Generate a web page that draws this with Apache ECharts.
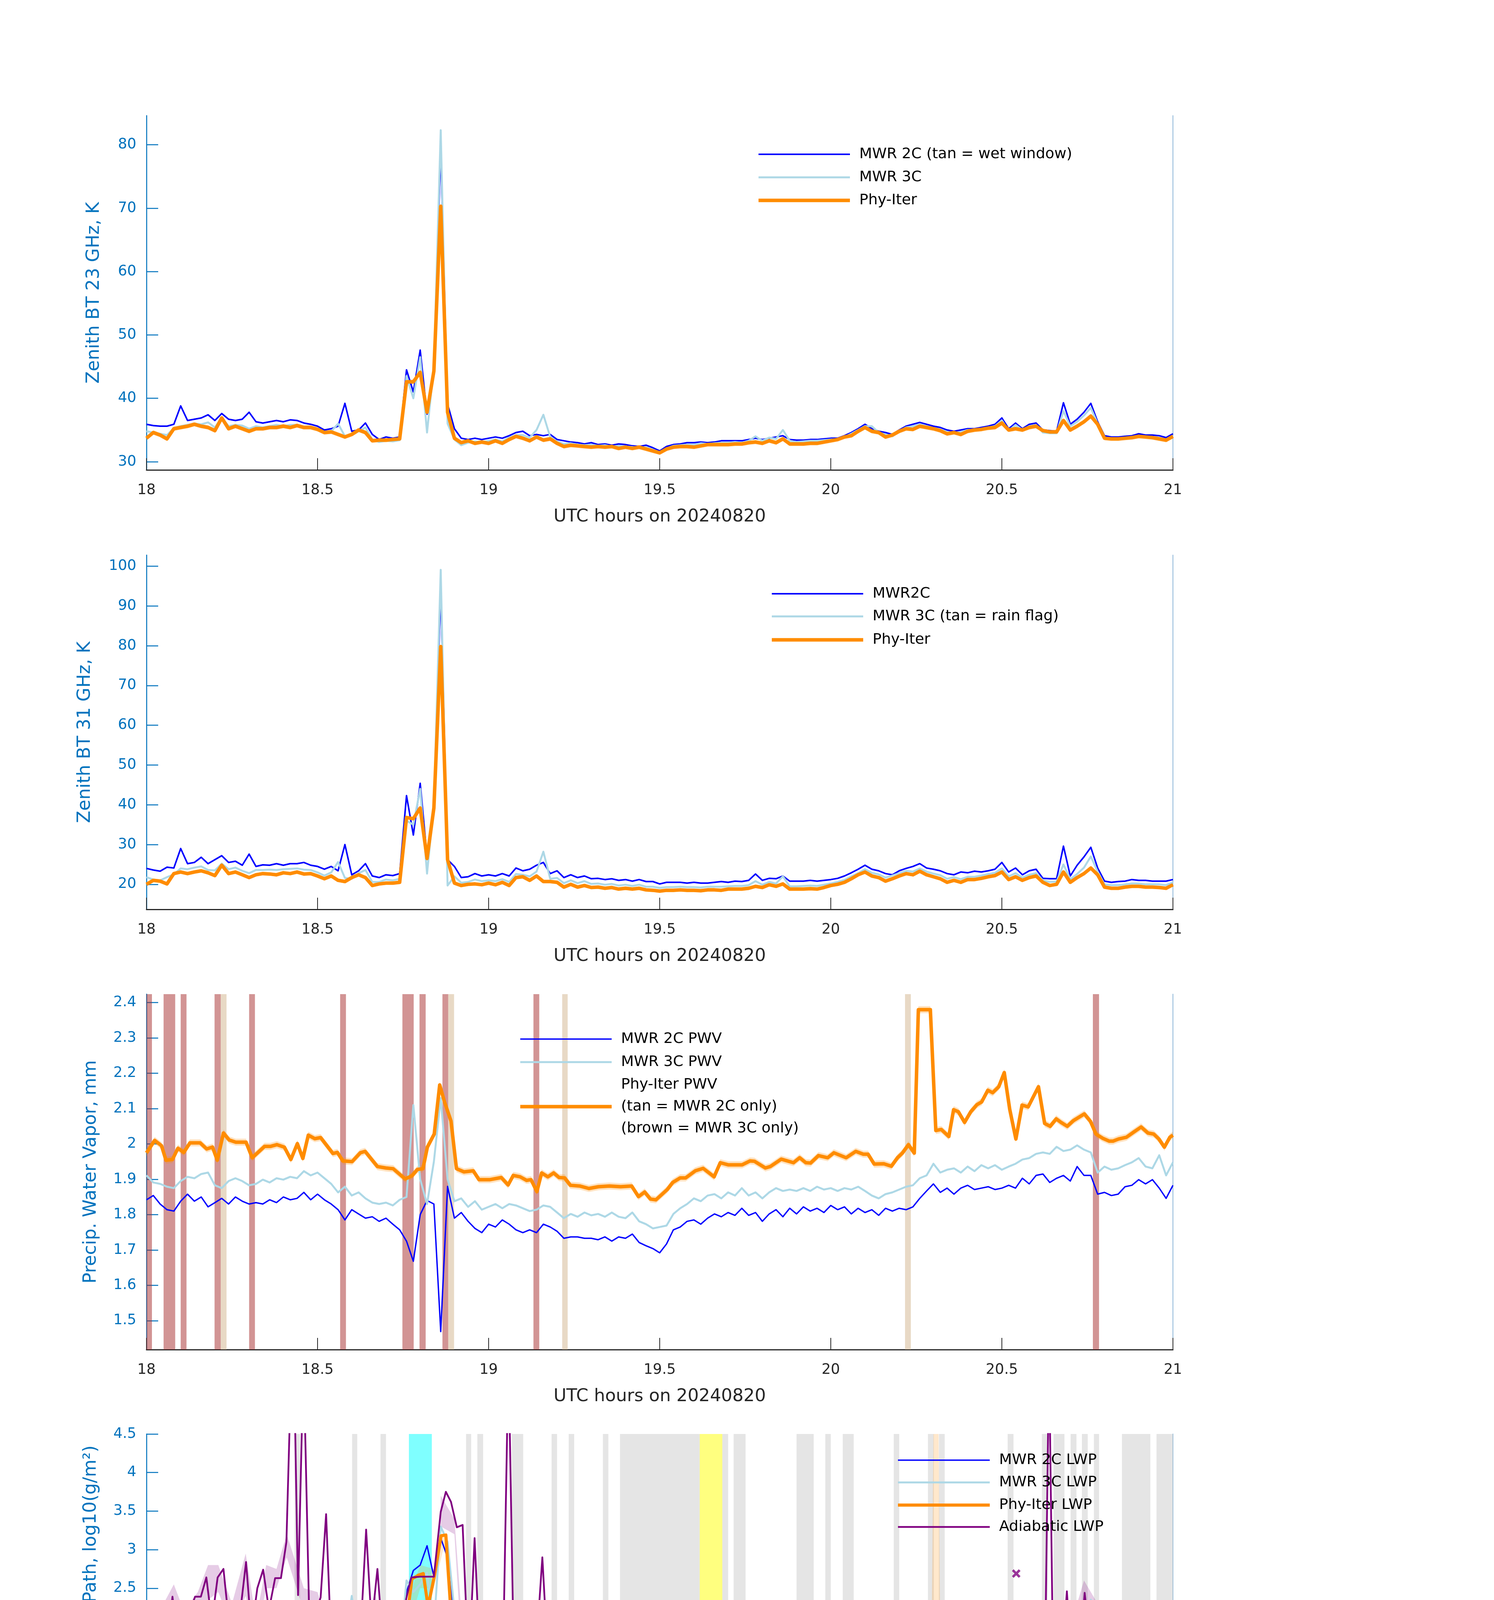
<!DOCTYPE html>
<html><head><meta charset="utf-8">
<script src="https://cdn.jsdelivr.net/npm/echarts@6/dist/echarts.min.js"></script>
<style>html,body{margin:0;padding:0;background:#fff}#c{width:3825px;height:6000px}</style>
</head><body><div id="c"></div>
<script>
// ---------------- DATA ----------------
// sampling grid of the MWR series: 18.00 .. 21.00 h every 0.02 h (151 samples, rows of 10)
const T = []; for (let i = 0; i <= 150; i++) T.push(+(18 + i * 0.02).toFixed(2));
const xTicks = [18, 18.5, 19, 19.5, 20, 20.5, 21];

// Panel 1: Zenith BT 23 GHz (K)
const bt23_2C = [
35.9,35.7,35.6,35.6,35.9,38.8,36.5,36.7,36.9,37.4,
36.5,37.6,36.7,36.5,36.7,37.8,36.3,36.1,36.3,36.5,
36.3,36.6,36.5,36.1,35.9,35.6,35.0,35.2,35.6,39.2,
34.8,35.0,36.1,34.3,33.5,33.9,33.7,33.9,44.5,41.0,
47.6,37.5,45.0,79.4,39.1,35.2,33.7,33.5,33.7,33.5,
33.7,33.9,33.7,34.1,34.6,34.8,34.1,34.3,34.1,34.3,
33.5,33.3,33.1,33.0,32.8,33.0,32.7,32.8,32.6,32.8,
32.7,32.5,32.4,32.6,32.2,31.7,32.4,32.7,32.8,33.0,
33.0,33.1,33.0,33.1,33.3,33.3,33.3,33.3,33.5,33.7,
33.5,33.7,33.9,34.1,33.5,33.4,33.4,33.5,33.5,33.6,
33.7,33.7,34.1,34.6,35.2,35.9,35.2,34.8,34.6,34.3,
35.0,35.6,35.9,36.2,35.9,35.6,35.4,35.0,34.8,35.0,
35.2,35.2,35.4,35.6,35.9,36.9,35.2,36.1,35.2,35.9,
36.1,35.0,34.9,34.8,39.3,35.9,36.7,37.8,39.2,36.3,
34.1,33.9,33.9,34.0,34.1,34.4,34.2,34.2,34.1,33.8,
34.4];
const bt23_3C = [
34.8,34.6,34.4,34.2,35.3,35.6,35.8,36.0,35.9,36.2,
35.4,37.0,35.6,35.8,35.7,35.2,35.6,35.4,35.6,35.8,
35.6,35.8,35.8,35.5,35.4,35.2,34.5,34.8,36.0,34.0,
34.2,34.8,35.4,33.5,33.1,33.3,33.2,33.4,43.5,40.0,
46.5,34.6,45.0,82.3,36.0,33.5,32.6,33.0,33.2,33.1,
33.3,33.5,33.2,33.8,34.2,34.2,33.8,35.0,37.4,33.9,
33.2,32.8,32.9,32.7,32.6,32.7,32.5,32.6,32.4,32.5,
32.4,32.3,32.2,32.3,31.9,31.5,32.1,32.5,32.6,32.7,
32.7,32.9,32.8,32.9,33.0,33.0,33.1,33.0,33.3,34.0,
33.3,33.8,33.6,35.0,33.3,33.1,33.2,33.3,33.3,33.4,
33.5,33.5,33.9,34.4,35.0,35.6,35.6,34.6,34.3,34.0,
34.8,35.4,35.6,35.9,35.6,35.3,35.1,34.7,34.5,34.7,
35.0,35.0,35.2,35.4,35.6,36.5,34.9,35.8,35.0,35.6,
35.8,34.6,34.5,34.5,38.0,35.6,36.3,37.3,38.5,36.0,
33.7,33.6,33.6,33.7,33.8,34.1,33.9,33.9,33.8,33.5,
34.1];
const bt23_phy = [
33.7,34.6,34.2,33.6,35.2,35.4,35.6,35.9,35.6,35.4,
34.9,36.9,35.2,35.6,35.2,34.8,35.2,35.2,35.4,35.4,
35.6,35.4,35.7,35.4,35.4,35.1,34.6,34.7,34.3,33.9,
34.3,35.0,34.6,33.3,33.4,33.4,33.5,33.6,42.6,42.6,
44.1,37.8,44.3,70.3,37.8,33.7,33.0,33.3,32.9,33.1,
32.9,33.3,32.9,33.5,34.0,33.7,33.3,33.9,33.4,33.6,
32.9,32.4,32.6,32.5,32.4,32.3,32.4,32.3,32.4,32.1,
32.3,32.1,32.3,32.0,31.7,31.4,32.0,32.3,32.4,32.4,
32.3,32.5,32.7,32.7,32.7,32.7,32.8,32.8,33.0,33.1,
32.9,33.3,33.0,33.6,32.8,32.8,32.8,32.9,32.9,33.1,
33.3,33.5,33.9,34.1,34.8,35.4,34.8,34.6,33.9,34.2,
34.8,35.2,35.1,35.6,35.4,35.2,34.9,34.4,34.6,34.3,
34.8,35.0,35.1,35.3,35.4,36.1,35.0,35.2,35.0,35.4,
35.6,34.9,34.7,34.7,36.5,35.0,35.6,36.3,37.2,35.9,
33.7,33.6,33.6,33.7,33.8,34.0,33.9,33.8,33.6,33.4,
34.0];
const bt23_phyUnc = 0.35;

// Panel 2: Zenith BT 31 GHz (K)
const bt31_2C = [
24.0,23.6,23.3,24.3,24.1,29.0,25.2,25.5,26.8,25.2,
26.2,27.2,25.5,25.8,24.8,27.6,24.5,24.9,24.8,25.2,
24.8,25.2,25.2,25.5,24.8,24.5,23.8,24.5,23.4,30.0,
22.4,23.4,25.2,22.1,21.7,22.4,22.2,22.7,42.3,32.4,
45.4,27.0,39.2,94.3,26.2,24.5,21.7,21.9,22.7,22.1,
22.4,22.1,22.7,22.1,24.1,23.4,23.8,24.8,25.5,22.7,
23.4,21.7,22.4,21.7,22.1,21.4,21.5,21.2,21.4,21.0,
21.2,20.8,21.2,20.7,20.7,20.1,20.5,20.5,20.5,20.3,
20.5,20.3,20.3,20.5,20.7,20.5,20.8,20.7,21.0,22.6,
21.0,21.5,21.4,22.1,20.8,20.8,20.8,21.0,20.8,21.0,
21.2,21.5,22.1,22.9,23.8,24.8,23.8,23.4,22.7,22.4,
23.4,24.0,24.5,25.2,24.1,23.8,23.4,22.7,22.4,23.1,
22.9,23.3,23.1,23.4,23.8,25.5,23.1,24.1,22.4,23.4,
23.8,21.5,21.4,21.4,29.6,22.1,24.8,26.9,29.3,24.1,
20.8,20.5,20.7,20.8,21.2,21.0,21.0,20.8,20.8,20.8,
21.2];
const bt31_3C = [
21.8,21.2,21.0,21.8,22.5,24.0,23.8,24.2,24.5,23.6,
23.5,25.2,23.8,24.2,23.4,22.8,23.6,23.6,23.7,23.6,
23.8,23.9,24.0,23.7,23.6,23.0,22.2,23.0,25.6,21.6,
21.4,22.8,23.6,20.6,20.6,21.2,21.0,21.4,36.0,35.0,
44.0,22.7,40.0,99.1,19.7,22.0,20.4,20.6,21.2,20.8,
21.0,20.8,21.3,20.6,22.6,22.4,22.0,23.2,28.2,21.4,
21.6,20.3,21.0,20.3,20.8,20.1,20.2,19.9,20.1,19.7,
19.9,19.6,19.9,19.4,19.4,19.1,19.3,19.3,19.4,19.3,
19.3,19.2,19.4,19.4,19.4,19.5,19.6,19.6,19.8,20.8,
19.9,20.6,20.2,22.0,19.5,19.5,19.6,19.7,19.6,19.9,
20.2,20.6,21.1,22.0,22.8,23.8,22.9,22.5,21.7,22.2,
22.8,23.4,23.2,24.0,23.2,22.7,22.3,21.4,21.8,21.3,
21.9,21.9,22.2,22.6,22.9,24.0,22.0,22.8,21.7,22.4,
22.8,21.0,20.6,20.7,25.0,21.3,22.6,24.2,27.0,23.2,
20.0,19.8,19.8,20.0,20.2,20.2,20.0,20.0,20.0,19.8,
20.5];
const bt31_phy = [
20.0,21.0,20.8,20.1,22.7,23.1,22.7,23.1,23.4,22.9,
22.2,24.8,22.7,23.1,22.4,21.7,22.4,22.7,22.6,22.4,
22.9,22.7,23.1,22.6,22.7,22.1,21.4,22.1,21.0,20.7,
21.7,22.4,21.7,19.7,20.1,20.3,20.3,20.5,36.8,36.5,
39.2,26.5,39.2,79.8,26.2,20.3,19.7,20.0,20.1,19.9,
20.3,19.9,20.5,19.7,21.7,21.9,21.0,22.1,20.7,20.7,
20.5,19.3,20.0,19.3,19.7,19.2,19.3,19.0,19.2,18.8,
19.0,18.8,19.0,18.6,18.5,18.3,18.5,18.5,18.6,18.5,
18.5,18.4,18.6,18.6,18.5,18.8,18.8,18.8,19.0,19.5,
19.2,19.9,19.5,20.1,18.8,18.8,18.8,18.9,18.8,19.2,
19.7,20.0,20.5,21.4,22.4,23.1,22.1,21.7,20.8,21.4,
22.1,22.7,22.4,23.3,22.4,21.9,21.4,20.5,21.0,20.5,
21.2,21.2,21.5,21.9,22.2,23.1,21.2,21.9,21.0,21.7,
22.1,20.5,19.7,20.0,23.1,20.5,21.7,22.7,24.1,22.4,
19.3,19.0,19.0,19.3,19.5,19.5,19.3,19.3,19.2,19.0,
19.9];
const bt31_phyUnc = 0.4;

// Panel 3: precipitable water vapor (mm)
const pwv_2C = [
1.842,1.854,1.830,1.814,1.810,1.838,1.858,1.838,1.850,1.822,
1.834,1.846,1.830,1.850,1.838,1.830,1.834,1.830,1.842,1.834,
1.850,1.842,1.846,1.863,1.842,1.858,1.842,1.830,1.814,1.785,
1.814,1.802,1.790,1.794,1.781,1.790,1.773,1.757,1.725,1.668,
1.800,1.840,1.830,1.469,1.880,1.790,1.806,1.781,1.761,1.749,
1.773,1.765,1.785,1.773,1.757,1.749,1.757,1.749,1.773,1.765,
1.753,1.733,1.737,1.737,1.733,1.733,1.729,1.737,1.725,1.737,
1.733,1.745,1.721,1.712,1.704,1.692,1.717,1.757,1.765,1.781,
1.785,1.773,1.790,1.802,1.794,1.806,1.798,1.818,1.798,1.806,
1.781,1.802,1.814,1.794,1.818,1.802,1.822,1.810,1.818,1.806,
1.826,1.814,1.822,1.802,1.818,1.806,1.814,1.798,1.818,1.810,
1.818,1.814,1.822,1.846,1.867,1.887,1.863,1.875,1.858,1.875,
1.883,1.871,1.875,1.879,1.871,1.875,1.883,1.875,1.903,1.887,
1.911,1.915,1.891,1.903,1.911,1.895,1.936,1.911,1.911,1.858,
1.863,1.854,1.858,1.879,1.883,1.899,1.887,1.899,1.875,1.846,
1.883];
const pwv_3C = [
1.911,1.891,1.887,1.879,1.875,1.895,1.907,1.903,1.915,1.919,
1.883,1.875,1.895,1.903,1.895,1.883,1.887,1.899,1.891,1.903,
1.899,1.907,1.903,1.923,1.911,1.919,1.903,1.887,1.863,1.879,
1.854,1.863,1.846,1.834,1.830,1.834,1.826,1.842,1.850,2.110,
1.900,1.830,1.950,2.130,1.900,1.838,1.846,1.822,1.838,1.814,
1.822,1.830,1.818,1.830,1.826,1.818,1.810,1.814,1.826,1.822,
1.806,1.790,1.802,1.794,1.806,1.798,1.802,1.794,1.806,1.794,
1.790,1.806,1.781,1.773,1.761,1.765,1.769,1.802,1.818,1.830,
1.846,1.838,1.854,1.858,1.846,1.863,1.854,1.875,1.854,1.863,
1.846,1.863,1.875,1.867,1.871,1.867,1.875,1.867,1.879,1.871,
1.875,1.867,1.875,1.871,1.879,1.867,1.854,1.846,1.858,1.863,
1.871,1.879,1.883,1.903,1.911,1.944,1.919,1.927,1.931,1.919,
1.936,1.923,1.940,1.931,1.940,1.927,1.936,1.944,1.956,1.960,
1.972,1.976,1.972,1.992,1.980,1.984,1.996,1.984,1.976,1.919,
1.936,1.927,1.931,1.940,1.948,1.960,1.936,1.931,1.968,1.911,
1.948];
// Phy-Iter PWV on its own (coarser) time stamps: [hour, mm]
const pwv_phy = [
[18.000,1.975],[18.024,2.010],[18.044,1.995],[18.057,1.954],[18.076,1.956],[18.092,1.988],[18.109,1.976],[18.127,2.003],
[18.157,2.003],[18.176,1.986],[18.193,1.991],[18.207,1.954],[18.225,2.031],[18.242,2.011],[18.261,2.005],[18.291,2.005],
[18.309,1.961],[18.345,1.993],[18.362,1.993],[18.381,1.998],[18.403,1.991],[18.422,1.956],[18.441,2.001],[18.457,1.959],
[18.473,2.025],[18.492,2.015],[18.509,2.018],[18.545,1.973],[18.558,1.976],[18.574,1.952],[18.601,1.950],[18.625,1.975],
[18.639,1.979],[18.675,1.936],[18.699,1.932],[18.721,1.930],[18.756,1.901],[18.776,1.910],[18.792,1.928],[18.808,1.930],
[18.821,1.991],[18.841,2.028],[18.857,2.167],[18.871,2.119],[18.890,2.065],[18.906,1.930],[18.928,1.921],[18.955,1.924],
[18.972,1.899],[19.004,1.899],[19.037,1.905],[19.057,1.884],[19.072,1.911],[19.092,1.907],[19.111,1.897],[19.124,1.899],
[19.141,1.865],[19.155,1.918],[19.173,1.907],[19.190,1.918],[19.206,1.905],[19.222,1.904],[19.239,1.883],[19.266,1.881],
[19.293,1.874],[19.321,1.879],[19.353,1.881],[19.386,1.879],[19.418,1.881],[19.438,1.851],[19.456,1.864],[19.473,1.844],
[19.489,1.842],[19.522,1.871],[19.538,1.891],[19.560,1.904],[19.576,1.904],[19.604,1.924],[19.627,1.931],[19.659,1.907],
[19.677,1.947],[19.700,1.941],[19.741,1.941],[19.764,1.952],[19.777,1.951],[19.809,1.932],[19.823,1.936],[19.855,1.957],
[19.891,1.947],[19.909,1.961],[19.927,1.947],[19.941,1.946],[19.964,1.967],[19.991,1.961],[20.009,1.975],[20.045,1.961],
[20.073,1.979],[20.095,1.971],[20.109,1.971],[20.127,1.943],[20.155,1.944],[20.177,1.937],[20.195,1.961],[20.209,1.974],
[20.227,1.998],[20.244,1.974],[20.256,2.380],[20.291,2.380],[20.307,2.038],[20.323,2.041],[20.345,2.021],[20.359,2.097],
[20.373,2.091],[20.391,2.061],[20.409,2.091],[20.427,2.111],[20.441,2.119],[20.459,2.152],[20.473,2.145],[20.491,2.162],
[20.507,2.202],[20.523,2.098],[20.541,2.014],[20.559,2.110],[20.577,2.105],[20.607,2.162],[20.625,2.058],[20.641,2.050],
[20.659,2.071],[20.673,2.061],[20.691,2.050],[20.709,2.066],[20.741,2.085],[20.759,2.064],[20.775,2.028],[20.795,2.016],
[20.814,2.008],[20.825,2.008],[20.841,2.014],[20.864,2.019],[20.886,2.034],[20.907,2.048],[20.927,2.031],[20.944,2.028],
[20.959,2.014],[20.975,1.991],[20.991,2.019],[21.000,2.025]];
const pwv_phyUnc = 0.01;
// flagged minutes (start hour, end hour)
const pwvBrown = [[18.000,18.016],[18.050,18.084],[18.100,18.117],[18.199,18.217],[18.300,18.317],[18.566,18.583],
  [18.748,18.781],[18.798,18.816],[18.865,18.882],[19.131,19.148],[20.766,20.784]];
const pwvTan = [[18.217,18.234],[18.882,18.899],[19.215,19.231],[20.217,20.234]];

// Panel 4: log10 LWP
const lwp_2C = [
2.00,1.98,1.95,2.02,2.04,2.25,2.06,2.09,2.12,2.15,
2.10,2.16,2.10,2.12,2.05,2.18,2.10,2.05,2.07,2.06,
2.04,2.07,2.06,2.09,2.07,2.00,2.04,1.90,1.96,1.89,
2.15,1.88,2.05,1.78,1.86,1.79,1.90,1.85,2.45,2.73,
2.80,3.05,2.65,3.15,2.90,2.10,1.85,1.78,1.95,1.90,
1.92,1.93,1.83,1.90,1.82,2.05,2.00,2.20,1.95,1.89,
1.90,1.90,1.84,1.82,1.80,1.85,1.76,1.75,1.80,1.72,
1.80,1.74,1.76,1.76,1.72,1.67,1.66,1.64,1.66,1.65,
1.63,1.61,1.61,1.60,1.62,1.66,1.64,1.65,1.66,1.72,
1.78,1.70,1.85,1.66,1.70,1.65,1.65,1.60,1.63,1.67,
1.65,1.70,1.85,1.92,2.05,2.02,1.93,1.98,1.86,1.82,
1.90,1.96,2.02,2.08,2.02,1.92,1.88,1.80,1.90,1.84,
1.88,1.82,1.90,1.96,1.95,2.08,1.92,1.99,1.87,1.94,
1.90,1.95,1.63,1.62,1.74,1.72,1.74,2.00,2.22,2.10,
1.55,1.56,1.55,1.57,1.58,1.61,1.60,1.57,1.60,1.62,
1.64];
const lwp_3C = [
1.95,1.90,1.85,1.90,1.95,2.10,1.95,1.98,2.00,1.95,
1.92,2.05,1.95,2.00,1.93,2.00,1.97,1.92,1.95,1.94,
1.93,1.95,1.95,1.98,1.95,1.93,1.90,1.80,1.85,1.78,
2.40,1.78,2.00,1.70,1.60,1.55,1.60,1.65,2.60,2.45,
2.55,2.70,2.00,3.30,3.10,2.20,1.50,1.55,1.75,1.60,
1.65,1.60,1.55,1.70,1.62,1.85,1.75,2.30,1.80,1.70,
1.72,1.65,1.62,1.60,1.58,1.60,1.50,1.52,1.55,1.48,
1.50,1.45,1.42,1.43,1.41,1.40,1.41,1.40,1.41,1.40,
1.40,1.38,1.38,1.40,1.39,1.41,1.42,1.40,1.45,1.60,
1.50,1.65,1.45,1.52,1.47,1.45,1.43,1.45,1.46,1.48,
1.47,1.52,1.70,1.80,1.98,2.05,1.85,1.92,1.78,1.74,
1.82,1.88,1.95,2.00,1.95,1.85,1.80,1.74,1.82,1.76,
1.80,1.74,1.82,1.90,1.90,2.00,1.85,1.92,1.78,1.85,
1.82,1.85,1.55,1.52,1.65,1.65,1.70,2.10,2.35,2.05,
1.47,1.45,1.45,1.44,1.46,1.48,1.47,1.44,1.45,1.47,
1.50];
// Phy-Iter LWP [hour, log10]; -1 = below axis (zero LWP), null = no retrieval
const lwp_phy = [
[18.000,1.50],[18.019,1.69],[18.038,1.67],[18.076,1.53],[18.095,1.86],[18.109,2.02],[18.128,1.96],[18.161,2.02],
[18.194,1.93],[18.208,1.92],[18.225,2.15],[18.241,1.89],[18.260,1.99],[18.274,1.99],[18.293,1.89],[18.307,1.86],
[18.336,1.96],[18.360,1.90],[18.379,1.92],[18.393,1.89],[18.411,1.98],[18.435,1.97],[18.454,1.93],[18.464,2.01],
[18.478,1.90],[18.497,1.89],[18.520,1.79],[18.530,1.86],[18.544,1.72],[18.558,1.79],[18.577,1.72],[18.591,1.79],
[18.606,1.53],[18.625,1.78],[18.644,1.87],[18.658,1.75],[18.675,1.27],[18.691,1.52],[18.710,1.52],[18.743,1.62],
[18.762,2.15],[18.776,2.62],[18.795,2.67],[18.809,2.69],[18.823,2.26],[18.842,2.67],[18.861,3.18],[18.875,3.19],
[18.889,2.24],[18.904,1.53],[18.923,1.41],[18.937,1.35],[18.956,1.58],[18.975,1.58],[18.994,1.41],[19.008,1.46],
[19.027,1.64],[19.046,1.39],[19.058,1.64],[19.077,1.49],[19.093,1.87],[19.107,1.90],[19.121,1.81],[19.136,1.79],
[19.159,1.90],[19.174,1.66],[19.193,1.67],[19.211,1.67],[19.225,1.59],[19.240,1.44],[19.254,1.41],[19.273,1.53],
[19.287,1.38],[19.301,1.49],[19.320,1.29],[19.339,1.22],[19.358,1.38],[19.377,1.06],[19.391,1.22],[19.410,1.32],
[19.429,1.24],[19.443,0.89],[19.470,1.13],[19.493,0.76],[19.504,-1],[19.521,0.75],[19.544,0.64],[19.561,0.44],
[19.575,0.72],[19.589,-1],[19.640,null],[19.690,-1],[19.707,0.53],[19.724,0.00],[19.741,0.12],[19.758,1.30],
[19.775,1.10],[19.792,0.95],[19.809,1.39],[19.826,1.12],[19.843,1.36],[19.860,1.38],[19.873,1.58],[19.894,-1],
[19.950,null],[20.023,1.36],[20.040,1.58],[20.063,1.79],[20.080,1.92],[20.097,1.99],[20.108,1.98],[20.125,1.79],
[20.142,1.86],[20.176,1.58],[20.204,1.76],[20.227,1.90],[20.238,1.89],[20.250,-1],[20.290,-1],[20.305,1.75],
[20.322,1.61],[20.339,1.44],[20.450,null],[20.627,1.41],[20.644,1.02],[20.659,0.61],[20.672,0.92],[20.693,2.04],
[20.706,1.01],[20.723,1.62],[20.740,1.84],[20.757,2.07],[20.774,1.99],[20.785,0.61],[20.794,-1],[20.850,null],
[20.920,-1],[20.926,0.32],[20.935,-1],[20.960,null],[20.985,-1],[20.988,0.47],[21.005,0.98]];
// Adiabatic LWP [hour, log10]; 5.5 = above axis top
const lwp_adi = [
[18.000,1.78],[18.009,1.61],[18.028,1.62],[18.042,2.02],[18.058,1.67],[18.076,2.39],[18.093,1.76],[18.109,2.09],
[18.128,2.22],[18.142,2.39],[18.159,2.39],[18.175,2.64],[18.191,2.06],[18.208,2.64],[18.225,2.75],[18.241,2.06],
[18.257,2.19],[18.274,2.19],[18.291,2.84],[18.307,1.94],[18.324,2.50],[18.341,2.74],[18.358,2.22],[18.376,2.63],
[18.393,2.63],[18.409,3.10],[18.424,5.5],[18.431,5.5],[18.443,2.41],[18.459,5.5],[18.475,2.27],[18.492,2.15],
[18.509,2.38],[18.525,3.46],[18.539,1.87],[18.558,1.62],[18.577,1.96],[18.591,2.22],[18.607,1.42],[18.624,1.76],
[18.642,3.26],[18.658,2.02],[18.675,2.75],[18.691,1.79],[18.708,1.62],[18.724,1.49],[18.743,1.32],[18.759,2.36],
[18.774,2.64],[18.800,2.65],[18.840,2.65],[18.860,3.49],[18.875,3.75],[18.890,3.62],[18.907,3.29],[18.924,3.32],
[18.942,1.41],[18.959,3.15],[18.975,1.53],[18.992,1.44],[19.008,1.44],[19.024,1.50],[19.041,1.29],[19.058,5.5],
[19.074,1.47],[19.090,2.19],[19.107,2.02],[19.124,1.93],[19.141,1.84],[19.157,2.90],[19.174,1.52],[19.190,1.82],
[19.206,1.46],[19.222,1.82],[19.240,1.49],[19.257,1.44],[19.273,1.82],[19.289,1.75],[19.306,1.47],[19.323,1.39],
[19.339,1.41],[19.355,1.82],[19.372,1.50],[19.388,1.42],[19.405,1.42],[19.424,1.42],[19.442,1.04],[19.459,1.42],
[19.476,1.04],[19.544,1.04],[19.561,1.44],[19.578,1.04],[19.606,1.04],[19.650,null],[19.690,1.19],[19.707,1.29],
[19.724,1.19],[19.741,1.19],[19.758,1.95],[19.775,1.82],[19.792,1.56],[19.805,1.93],[19.824,1.98],[19.839,2.07],
[19.857,1.96],[19.873,2.15],[19.894,1.38],[19.907,1.19],[19.960,null],[20.029,1.30],[20.043,1.18],[20.061,1.95],
[20.080,1.73],[20.097,2.01],[20.108,2.01],[20.128,1.55],[20.148,1.39],[20.176,1.32],[20.193,1.19],[20.209,1.70],
[20.227,1.29],[20.243,1.19],[20.260,1.47],[20.277,1.29],[20.300,1.19],[20.322,1.19],[20.339,1.26],[20.450,null],
[20.625,1.12],[20.638,5.5],[20.650,1.38],[20.661,0.92],[20.674,1.39],[20.690,2.46],[20.706,1.38],[20.723,1.38],
[20.742,2.44],[20.760,1.70],[20.774,1.36],[20.794,1.96],[20.808,2.09],[20.840,null],[20.875,0.99],[20.887,1.38],
[20.920,1.38],[20.941,1.24],[20.965,null],[20.990,0.96],[21.008,1.39]];
// isolated single retrievals
const lwp_phyIsolated = [[20.542,1.70]];
const lwp_adiIsolated = [[20.542,2.69]];
// uncertainty envelopes [hour, low, high]; null = gap
const lwp_phyBand = [
[18.00,0.25,1.80],[18.02,1.2,1.85],[18.04,1.3,1.8],[18.06,0.75,1.7],[18.08,1.4,1.95],[18.10,1.75,2.05],[18.15,1.85,2.05],
[18.20,1.8,2.0],[18.22,1.8,2.2],[18.26,1.8,2.05],[18.30,1.75,1.95],[18.35,1.85,2.0],[18.40,1.85,2.0],[18.45,1.88,2.02],
[18.50,1.8,1.95],[18.52,1.55,1.9],[18.55,1.65,1.85],[18.58,1.6,1.85],[18.60,1.3,1.75],[18.62,1.55,1.85],[18.65,1.55,1.95],
[18.675,0.58,1.45],[18.70,1.3,1.6],[18.74,1.45,1.7],[18.76,1.9,2.3],[18.80,2.5,2.8],[18.84,2.5,2.75],[18.87,3.05,3.25],
[18.89,2.0,2.4],[18.91,1.0,1.6],[18.94,0.9,1.5],[18.96,1.3,1.65],[18.98,1.15,1.6],[19.00,1.15,1.55],[19.03,1.3,1.7],
[19.05,1.0,1.55],[19.08,1.15,1.6],[19.10,1.6,1.95],[19.14,1.6,1.9],[19.16,1.45,1.95],[19.20,1.2,1.75],[19.22,1.0,1.7],
[19.25,0.9,1.6],[19.28,1.1,1.65],[19.30,0.9,1.55],[19.33,0.7,1.4],[19.36,0.85,1.55],[19.38,0.1,1.4],[19.40,0.4,1.45],
[19.43,0.2,1.3],[19.45,-0.2,1.2],[19.48,0.0,1.3],[19.50,-0.2,1.0],[19.55,-0.2,0.9],[19.58,-0.2,0.9],[19.60,-0.2,0.8],null,
[19.69,-0.2,0.9],[19.72,-0.2,0.5],[19.75,0.6,1.5],[19.78,0.5,1.4],[19.80,0.2,1.2],[19.83,0.7,1.5],[19.86,0.9,1.6],
[19.88,1.0,1.8],[19.895,-0.2,1.6],null,
[20.02,1.1,1.5],[20.05,1.4,1.8],[20.08,1.75,2.05],[20.11,1.8,2.05],[20.14,1.6,1.95],[20.18,1.3,1.75],[20.22,1.5,2.0],
[20.245,-0.2,2.0],[20.295,-0.2,2.0],[20.30,-0.2,4.6],[20.315,-0.2,4.6],[20.32,0.8,1.8],[20.34,0.6,1.7],null,
[20.535,1.6,1.8],[20.55,1.6,1.8],null,
[20.62,0.6,1.6],[20.65,-0.2,1.3],[20.67,0.0,1.2],[20.69,1.6,2.2],[20.71,0.5,1.4],[20.74,1.2,2.0],[20.76,1.6,2.2],
[20.78,0.0,2.0],[20.80,-0.2,1.6],null,[20.86,-0.2,0.8],[20.94,-0.2,0.8],null,[20.98,0.0,1.0],[21.00,0.2,1.2]];
const lwp_adiBand = [
[18.00,1.15,1.9],[18.03,1.45,1.85],[18.05,1.5,2.3],[18.08,1.75,2.55],[18.11,1.85,2.2],[18.15,2.15,2.45],[18.18,2.35,2.8],
[18.21,2.45,2.8],[18.25,2.0,2.3],[18.29,2.4,2.95],[18.32,1.85,2.1],[18.35,2.5,2.8],[18.38,2.5,2.75],[18.41,2.9,3.2],
[18.46,2.2,2.5],[18.50,2.2,2.45],[18.53,1.75,2.0],[18.56,1.5,1.8],[18.59,2.0,2.35],[18.61,1.1,1.55],[18.64,1.6,1.95],
[18.67,2.0,2.4],[18.70,1.3,1.7],[18.74,1.05,1.45],[18.76,1.9,2.5],null,
[18.86,3.3,3.7],[18.90,3.2,3.4],[18.93,1.1,1.6],[18.96,1.2,1.7],[19.00,1.0,1.6],[19.04,1.1,1.5],[19.07,1.2,1.55],
[19.10,1.8,2.2],[19.14,1.65,2.0],[19.17,1.4,1.7],[19.20,1.2,1.7],[19.24,1.1,1.55],[19.28,1.3,1.85],[19.32,1.1,1.5],
[19.36,1.2,1.85],[19.40,1.05,1.55],[19.45,0.55,1.45],[19.50,0.55,1.35],[19.55,0.55,1.45],[19.60,0.55,1.25],null,
[19.69,0.7,1.35],[19.74,0.85,1.5],[19.77,1.3,2.2],[19.80,1.2,2.1],[19.84,1.4,2.3],[19.87,1.5,2.25],[19.90,0.6,1.6],null,
[20.02,0.8,1.6],[20.06,1.1,2.0],[20.10,1.4,2.2],[20.14,1.0,1.8],[20.18,0.4,1.6],[20.22,0.6,1.8],[20.26,0.6,1.6],
[20.30,0.4,1.3],[20.34,0.7,1.4],null,
[20.62,0.6,1.5],[20.66,0.4,1.5],[20.70,0.9,2.0],[20.74,1.2,2.6],[20.78,1.3,2.3],[20.81,1.5,2.2],null,
[20.87,0.5,1.7],[20.90,0.8,1.75],[20.94,0.7,1.65],null,[20.99,0.5,1.5],[21.00,0.8,1.5]];
const lwpGray = [[18.433,18.449],[18.601,18.616],[18.684,18.700],[18.934,18.949],[18.967,18.984],[19.068,19.101],
  [19.184,19.200],[19.234,19.250],[19.334,19.350],[19.384,19.617],[19.683,19.700],[19.716,19.751],[19.900,19.950],
  [19.984,20.000],[20.035,20.067],[20.184,20.200],[20.284,20.301],[20.316,20.333],[20.517,20.534],[20.617,20.634],
  [20.651,20.683],[20.701,20.718],[20.734,20.751],[20.769,20.784],[20.851,20.934],[20.952,21.000]];
const lwpCyan = [[18.767,18.834]];
const lwpYellow = [[19.617,19.683]];

// Panel 5: DQ flag, minutes after 18 UTC (runs [first, last])
const flag0Runs = [[0,25],[27,35],[37,40],[42,45],[50,50],[53,55],[57,57],[59,63],[66,70],[72,73],[75,79],[81,82],
  [102,102],[105,113],[117,118],[120,121],[124,130],[132,134],[140,150],[152,156],[158,158],[161,161],[164,165],
  [167,170],[176,176]];
const flag4Runs = [[26,26],[36,36],[41,41],[56,56],[58,58],[64,65],[71,71],[74,74],[80,80],[83,96],[101,101],
  [103,104],[114,116],[119,119],[122,123],[131,131],[137,137],[139,139],[151,151],[157,157],[159,160],[162,163],
  [166,166],[172,175],[177,177],[179,180]];
const flag3Min = [171,178];
const flag5Min = [97,98,99,100];
const flag6Min = [51,52,135,136,137,138];
const flag7Min = [135,136,137];
const flag9Min = [47];
const flag10Min = [46,47,48];
const flag11Min = [46,47,48,49];

// tick label values
const p1Ticks = [30,40,50,60,70,80];
const p2Ticks = [20,30,40,50,60,70,80,90,100];
const p3Ticks = [1.5,1.6,1.7,1.8,1.9,2.0,2.1,2.2,2.3,2.4];
const p4Ticks = [0,0.5,1,1.5,2,2.5,3,3.5,4,4.5];
const p5Ticks = [0,2,4,6,8,10];

// ---------------- LAYOUT / STYLE ----------------
const FONT = 'DejaVu Sans';
const AXB = '#0072BD', DARK = '#262626';
const C_BLUE = '#0000FF', C_LB = '#ADD8E6', C_OR = '#FF8C00', C_PU = '#800080';
const LEFT = 375, WIDTH = 2628;
const P = [
  {top:296,  h:907, min:28.7,  max:84.6,  ticks:p1Ticks, name:'Zenith BT 23 GHz, K', gap:111},
  {top:1421, h:907, min:13.7,  max:102.8, ticks:p2Ticks, name:'Zenith BT 31 GHz, K', gap:134},
  {top:2545, h:910, min:1.418, max:2.424, ticks:p3Ticks, name:'Precip. Water Vapor, mm', gap:119},
  {top:3671, h:908, min:-0.1,  max:4.5,   ticks:p4Ticks, name:'log10 Liquid Water Path, log10(g/m\u00B2)', gap:119},
  {top:4795, h:907, min:-0.5,  max:11.5,  ticks:p5Ticks, name:'MWR Phy Iter DQ Flag', gap:111}
];

const grids = [], xAxes = [], yAxes = [];
P.forEach((p, i) => {
  grids.push({left:LEFT, top:p.top, width:WIDTH, height:p.h});
  xAxes.push({gridIndex:i, type:'value', min:18, max:21, interval:0.5,
    axisLine:{lineStyle:{color:DARK, width:3}},
    axisTick:{inside:true, length:30, lineStyle:{color:DARK, width:2}},
    axisLabel:{color:DARK, fontSize:37, fontFamily:FONT, margin:34, customValues:xTicks},
    splitLine:{show:false},
    name:'UTC hours on 20240820', nameLocation:'middle', nameGap:98,
    nameTextStyle:{color:DARK, fontSize:45, fontFamily:FONT}});
  yAxes.push({gridIndex:i, type:'value', min:p.min, max:p.max, position:'left',
    axisLine:{show:true, onZero:false, lineStyle:{color:AXB, width:2.5}},
    axisTick:{show:true, inside:true, length:30, lineStyle:{color:AXB, width:2.5}, customValues:p.ticks},
    axisLabel:{color:AXB, fontSize:37, fontFamily:FONT, margin:26, customValues:p.ticks,
      formatter: v => String(+(+v).toFixed(2))},
    splitLine:{show:false},
    name:p.name, nameLocation:'middle', nameRotate:90, nameGap:p.gap,
    nameTextStyle:{color:AXB, fontSize:46, fontFamily:FONT}});
});
P.forEach((p, i) => {
  yAxes.push({gridIndex:i, type:'value', min:p.min, max:p.max, position:'right',
    axisLine:{show:true, onZero:false, lineStyle:{color:'#8db6d8', width:2}},
    axisTick:{show:false}, axisLabel:{show:false}, splitLine:{show:false}});
});

const series = [];
const widthOf = {};
const onGrid = arr => T.map((t, k) => [t, arr[k]]);
function line(gi, name, data, color, width, z) {
  widthOf[name] = width;
  series.push({type:'line', name, xAxisIndex:gi, yAxisIndex:gi, data, symbol:'none', showSymbol:false,
    lineStyle:{color, width, join:'round'}, itemStyle:{color}, z:z || 2, clip:true, connectNulls:false,
    animation:false, silent:true});
}
function band(gi, pts, color, z) {
  const segs = []; let cur = [];
  pts.forEach(p => { if (p == null) { if (cur.length > 1) segs.push(cur); cur = []; } else cur.push(p); });
  if (cur.length > 1) segs.push(cur);
  const lo = P[gi].min, hi = P[gi].max;
  const cl = v => Math.max(lo, Math.min(hi, v));
  series.push({type:'custom', xAxisIndex:gi, yAxisIndex:gi, silent:true, z:z || 1, animation:false,
    data:[[18, lo]],
    renderItem:(params, api) => ({type:'group', children: segs.map(s => {
      const top = s.map(q => api.coord([q[0], cl(q[2])]));
      const bot = s.slice().reverse().map(q => api.coord([q[0], cl(q[1])]));
      return {type:'polygon', shape:{points: top.concat(bot)}, style:{fill:color}};
    })})});
}
function vbands(gi, list, color) {
  series.push({type:'line', xAxisIndex:gi, yAxisIndex:gi, data:[], z:10, silent:true, animation:false,
    markArea:{silent:true, animation:false, itemStyle:{color},
      data:list.map(r => [{xAxis:r[0]}, {xAxis:r[1]}])}});
}
const around = (pairs, u) => pairs.map(q => [q[0], q[1] - u, q[1] + u]);

// Panel 1
band(0, around(onGrid(bt23_phy), bt23_phyUnc), 'rgba(255,140,0,0.25)');
line(0, 'MWR 2C (tan = wet window)', onGrid(bt23_2C), C_BLUE, 4);
line(0, 'MWR 3C', onGrid(bt23_3C), C_LB, 5);
line(0, 'Phy-Iter', onGrid(bt23_phy), C_OR, 9);
// Panel 2
band(1, around(onGrid(bt31_phy), bt31_phyUnc), 'rgba(255,140,0,0.25)');
line(1, 'MWR2C', onGrid(bt31_2C), C_BLUE, 4);
line(1, 'MWR 3C (tan = rain flag)', onGrid(bt31_3C), C_LB, 5);
line(1, 'Phy-Iter ', onGrid(bt31_phy), C_OR, 9);
// Panel 3
const PHY_PWV_NAME = 'Phy-Iter PWV\n(tan = MWR 2C only)\n(brown = MWR 3C only)';
band(2, around(pwv_phy, pwv_phyUnc), 'rgba(255,140,0,0.25)');
line(2, 'MWR 2C PWV', onGrid(pwv_2C), C_BLUE, 3.5);
line(2, 'MWR 3C PWV', onGrid(pwv_3C), C_LB, 5);
line(2, PHY_PWV_NAME, pwv_phy, C_OR, 9);
vbands(2, pwvBrown, 'rgba(165,42,42,0.5)');
vbands(2, pwvTan, 'rgba(210,180,140,0.5)');
// Panel 4
band(3, lwp_phyBand, 'rgba(255,140,0,0.2)');
band(3, lwp_adiBand, 'rgba(128,0,128,0.2)');
line(3, 'MWR 2C LWP', onGrid(lwp_2C), C_BLUE, 3.5);
line(3, 'MWR 3C LWP', onGrid(lwp_3C), C_LB, 5);
line(3, 'Phy-Iter LWP', lwp_phy, C_OR, 8);
line(3, 'Adiabatic LWP', lwp_adi, C_PU, 4.5);
const XSYM = 'path://M2,0 L5,3 L8,0 L10,2 L7,5 L10,8 L8,10 L5,7 L2,10 L0,8 L3,5 L0,2 Z';
series.push({type:'scatter', xAxisIndex:3, yAxisIndex:3, data:lwp_phyIsolated, symbol:XSYM, symbolSize:22,
  itemStyle:{color:C_OR}, z:3, silent:true, animation:false});
series.push({type:'scatter', xAxisIndex:3, yAxisIndex:3, data:lwp_adiIsolated, symbol:XSYM, symbolSize:22,
  itemStyle:{color:C_PU}, z:3, silent:true, animation:false});
vbands(3, lwpGray, 'rgba(204,204,204,0.5)');
vbands(3, lwpCyan, 'rgba(0,255,255,0.5)');
vbands(3, lwpYellow, 'rgba(255,255,0,0.5)');
// Panel 5
const expand = runs => { const o = []; runs.forEach(r => { for (let m = r[0]; m <= r[1]; m++) o.push(m); }); return o; };
const flagPts = [];
const addFlag = (mins, f) => mins.forEach(m => flagPts.push([18 + m / 60, f]));
addFlag(expand(flag0Runs), 0); addFlag(expand(flag4Runs), 4); addFlag(flag3Min, 3); addFlag(flag5Min, 5);
addFlag(flag6Min, 6); addFlag(flag7Min, 7); addFlag(flag9Min, 9); addFlag(flag10Min, 10); addFlag(flag11Min, 11);
series.push({type:'scatter', xAxisIndex:4, yAxisIndex:4, data:flagPts, symbol:'circle', symbolSize:10,
  itemStyle:{color:C_OR}, silent:true, animation:false, z:3});

// legends (one component per entry so every entry sits where it does in the original)
const legends = [];
function leg(name, lineX, textX, yc, lines) {
  const lh = 56, h = lh * (lines || 1);
  legends.push({show:true, data:[name], left:lineX, top:yc - h / 2, orient:'horizontal', padding:0,
    icon:'rect', itemWidth:textX - lineX - 24, itemHeight:widthOf[name], selectedMode:false,
    textStyle:{fontFamily:FONT, fontSize:38, color:'#000', lineHeight:lh, padding:[0, 0, 0, 19]}});
}
leg('MWR 2C (tan = wet window)', 1942, 2200, 395);
leg('MWR 3C', 1942, 2200, 454);
leg('Phy-Iter', 1942, 2200, 513);
leg('MWR2C', 1976, 2234, 1520);
leg('MWR 3C (tan = rain flag)', 1976, 2234, 1578);
leg('Phy-Iter ', 1976, 2234, 1638);
leg('MWR 2C PWV', 1332, 1590, 2660);
leg('MWR 3C PWV', 1332, 1590, 2719);
leg(PHY_PWV_NAME, 1332, 1590, 2833, 3);
leg('MWR 2C LWP', 2299, 2558, 3738);
leg('MWR 3C LWP', 2299, 2558, 3795);
leg('Phy-Iter LWP', 2299, 2558, 3853);
leg('Adiabatic LWP', 2299, 2558, 3909);

const chart = echarts.init(document.getElementById('c'), null, {renderer:'canvas', width:3825, height:6000});
chart.setOption({backgroundColor:'#fff', animation:false, grid:grids, xAxis:xAxes, yAxis:yAxes,
  legend:legends, series});
</script></body></html>
